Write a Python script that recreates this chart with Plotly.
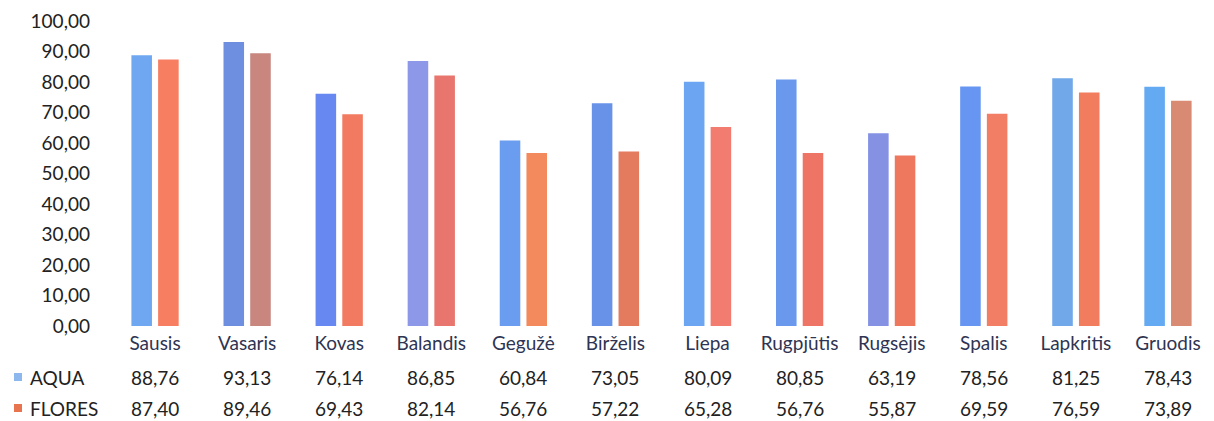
import plotly.graph_objects as go

months = ["Sausis", "Vasaris", "Kovas", "Balandis", "Gegužė", "Birželis",
          "Liepa", "Rugpjūtis", "Rugsėjis", "Spalis", "Lapkritis", "Gruodis"]
aqua = [88.76, 93.13, 76.14, 86.85, 60.84, 73.05, 80.09, 80.85, 63.19, 78.56, 81.25, 78.43]
flores = [87.40, 89.46, 69.43, 82.14, 56.76, 57.22, 65.28, 56.76, 55.87, 69.59, 76.59, 73.89]
y_ticks = [0, 10, 20, 30, 40, 50, 60, 70, 80, 90, 100]

aqua_colors = ["#6FA8F0", "#6E8FE0", "#6688F0", "#8E98E8", "#6A9CF0", "#6892E8",
               "#6CA6F2", "#6A98EC", "#8592E4", "#6696F2", "#70A8EA", "#64AAF2"]
flores_colors = ["#F87E62", "#C8867E", "#F27A60", "#E8766E", "#F28A5E", "#E47A5E",
                 "#F27C70", "#EE7466", "#EE785E", "#F27E66", "#F27C5E", "#D98A72"]

def fmt(v):
    return f"{v:.2f}".replace(".", ",")

fig = go.Figure()
fig.add_trace(go.Bar(name="AQUA", x=months, y=aqua, marker=dict(color=aqua_colors, line=dict(width=0))))
fig.add_trace(go.Bar(name="FLORES", x=months, y=flores, marker=dict(color=flores_colors, line=dict(width=0))))

FONT = "Lato, Open Sans, sans-serif"
FS = 19
OFF = 8  # page body margin
plot_h = 305.0
row_y = {"AQUA": (326 - 377) / plot_h, "FLORES": (326 - 408) / plot_h}

annotations = []
for m, a, f in zip(months, aqua, flores):
    annotations.append(dict(x=m, y=row_y["AQUA"], xref="x", yref="paper", text=fmt(a),
                            showarrow=False, font=dict(family=FONT, size=FS, color="#222222"),
                            xanchor="center", yanchor="middle"))
    annotations.append(dict(x=m, y=row_y["FLORES"], xref="x", yref="paper", text=fmt(f),
                            showarrow=False, font=dict(family=FONT, size=FS, color="#222222"),
                            xanchor="center", yanchor="middle"))

plot_w = 1105.0
def px_to_paper_x(px):
    return (px - 109) / plot_w

for name in ["AQUA", "FLORES"]:
    annotations.append(dict(x=px_to_paper_x(28), y=row_y[name], xref="paper", yref="paper", text=name,
                            showarrow=False, font=dict(family=FONT, size=FS, color="#222222"),
                            xanchor="left", yanchor="middle"))

shapes = []
key_colors = {"AQUA": "#8DB8EE", "FLORES": "#E8744F"}
for name in ["AQUA", "FLORES"]:
    yc = row_y[name]
    shapes.append(dict(type="rect", xref="paper", yref="paper",
                       x0=px_to_paper_x(14), x1=px_to_paper_x(22),
                       y0=yc - 4 / plot_h, y1=yc + 4 / plot_h,
                       fillcolor=key_colors[name], line=dict(width=0)))

fig.update_layout(
    width=1214 - OFF, height=421 - OFF,
    margin=dict(l=109 - OFF, r=0, t=21 - OFF, b=95),
    paper_bgcolor="white", plot_bgcolor="white",
    barmode="group", bargap=0.42, bargroupgap=0.23,
    showlegend=False,
    separators=", ",
    font=dict(family=FONT, size=FS, color="#222222"),
    xaxis=dict(showgrid=False, zeroline=False, showline=False, ticks="", ticklabelstandoff=4,
               tickfont=dict(family=FONT, size=FS, color="#2E3452")),
    yaxis=dict(range=[0, 100], tickvals=y_ticks, tickformat=".2f", showgrid=False,
               zeroline=False, showline=False, ticks="", ticklabelstandoff=18,
               tickfont=dict(family=FONT, size=FS, color="#222222")),
    annotations=annotations,
    shapes=shapes,
)

fig.write_html("out.html")
